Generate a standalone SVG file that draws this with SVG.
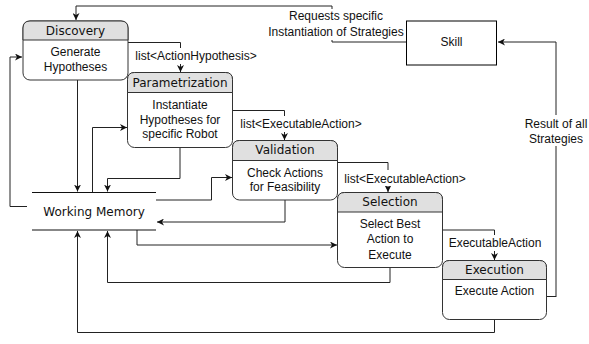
<svg xmlns="http://www.w3.org/2000/svg" width="589" height="344" viewBox="0 0 589 344">
<style>
.box{fill:#fff;stroke:#333;stroke-width:1}
.hdr{fill:#e0e0e0;stroke:#333;stroke-width:1}
.t{font-family:"Liberation Sans",Arial,sans-serif;font-size:12px;fill:#111;text-anchor:middle}
.h{font-family:"DejaVu Sans",Verdana,sans-serif;font-size:12px;fill:#111;text-anchor:middle}
.e{fill:none;stroke:#222;stroke-width:1}
.lbg{fill:#fff;stroke:none}
</style>
<defs>
<marker id="a" markerWidth="8" markerHeight="7" refX="7" refY="3.5" orient="auto" markerUnits="userSpaceOnUse">
<path d="M0,0 L7,3.5 L0,7 L2,3.5 Z" fill="#111"/>
</marker>
</defs>
<g id="connectors">
<path class="e" d="M406,42 H332 V6 H76 V20" marker-end="url(#a)"/>
<path class="e" d="M556,297 H556 V42 H498" marker-end="url(#a)"/>
<path class="e" d="M128,42.5 H180.5 V72" marker-end="url(#a)"/>
<path class="e" d="M232.5,110.5 H284.5 V140" marker-end="url(#a)"/>
<path class="e" d="M337.5,162.5 H388 V192" marker-end="url(#a)"/>
<path class="e" d="M442.5,230 H494.5 V260" marker-end="url(#a)"/>
<path class="e" d="M547,296.5 H556"/>
<path class="e" d="M27,206.5 H10 V57 H22" marker-end="url(#a)"/>
<path class="e" d="M77.5,80 V191.5" marker-end="url(#a)"/>
<path class="e" d="M92.5,192 V127.5 H127" marker-end="url(#a)"/>
<path class="e" d="M180,147.5 V178.5 H107.5 V191.5" marker-end="url(#a)"/>
<path class="e" d="M156,200 H211.5 V177.5 H232" marker-end="url(#a)"/>
<path class="e" d="M285,200 V222 H157" marker-end="url(#a)"/>
<path class="e" d="M137,230 V245 H337" marker-end="url(#a)"/>
<path class="e" d="M390,267.5 V282.5 H107.5 V231" marker-end="url(#a)"/>
<path class="e" d="M494.5,319.5 V332.5 H77.5 V231" marker-end="url(#a)"/>
<rect class="lbg" x="274" y="9" width="124" height="31"/>
<text class="t" x="336" y="20">Requests specific</text>
<text class="t" x="336" y="36">Instantiation of Strategies</text>
<rect class="lbg" x="526" y="115" width="60" height="31"/>
<text class="t" x="556" y="128">Result of all</text>
<text class="t" x="556" y="143">Strategies</text>
<rect class="lbg" x="133" y="48" width="126" height="16"/>
<text class="t" x="196" y="60">list&lt;ActionHypothesis&gt;</text>
<rect class="lbg" x="238" y="116" width="127" height="16"/>
<text class="t" x="301" y="128">list&lt;ExecutableAction&gt;</text>
<rect class="lbg" x="342" y="170" width="127" height="16"/>
<text class="t" x="405" y="182.5">list&lt;ExecutableAction&gt;</text>
<rect class="lbg" x="446" y="235" width="98" height="16"/>
<text class="t" x="495" y="247">ExecutableAction</text>
</g>
<g id="discovery">
<rect class="box" x="23" y="21" width="105" height="59" rx="7"/>
<path class="hdr" d="M23,40 V28 Q23,21 30,21 H121 Q128,21 128,28 V40 Z"/>
<text class="h" x="75.5" y="34.5">Discovery</text>
<text class="t" x="75.5" y="56">Generate</text>
<text class="t" x="75.5" y="71">Hypotheses</text>
</g>
<g id="parametrization">
<rect class="box" x="127.5" y="72.5" width="105" height="75" rx="7"/>
<path class="hdr" d="M127.5,92.5 V79.5 Q127.5,72.5 134.5,72.5 H225.5 Q232.5,72.5 232.5,79.5 V92.5 Z"/>
<text class="h" x="180" y="87">Parametrization</text>
<text class="t" x="180" y="108.5">Instantiate</text>
<text class="t" x="180" y="123.5">Hypotheses for</text>
<text class="t" x="180" y="138">specific Robot</text>
</g>
<g id="validation">
<rect class="box" x="232.5" y="140.5" width="105" height="59.5" rx="7"/>
<path class="hdr" d="M232.5,160.5 V147.5 Q232.5,140.5 239.5,140.5 H330.5 Q337.5,140.5 337.5,147.5 V160.5 Z"/>
<text class="h" x="285" y="154">Validation</text>
<text class="t" x="285" y="176.5">Check Actions</text>
<text class="t" x="285" y="191">for Feasibility</text>
</g>
<g id="selection">
<rect class="box" x="337.5" y="192.5" width="105" height="75" rx="7"/>
<path class="hdr" d="M337.5,212 V199.5 Q337.5,192.5 344.5,192.5 H435.5 Q442.5,192.5 442.5,199.5 V212 Z"/>
<text class="h" x="390" y="206">Selection</text>
<text class="t" x="390" y="227.5">Select Best</text>
<text class="t" x="390" y="243">Action to</text>
<text class="t" x="390" y="259">Execute</text>
</g>
<g id="execution">
<rect class="box" x="442.5" y="260.5" width="104" height="59" rx="7"/>
<path class="hdr" d="M442.5,279.5 V267.5 Q442.5,260.5 449.5,260.5 H539.5 Q546.5,260.5 546.5,267.5 V279.5 Z"/>
<text class="h" x="494.5" y="274">Execution</text>
<text class="t" x="494.5" y="295">Execute Action</text>
</g>
<g id="skill">
<rect x="406.5" y="21" width="90" height="44" fill="#fff" stroke="#000" stroke-width="1"/>
<text class="t" x="451.5" y="46">Skill</text>
</g>
<g id="working-memory">
<line x1="32" y1="192.5" x2="156" y2="192.5" stroke="#111" stroke-width="1.2"/>
<line x1="32" y1="230" x2="156" y2="230" stroke="#111" stroke-width="1.2"/>
<text class="h" x="94" y="216">Working Memory</text>
</g>
</svg>
